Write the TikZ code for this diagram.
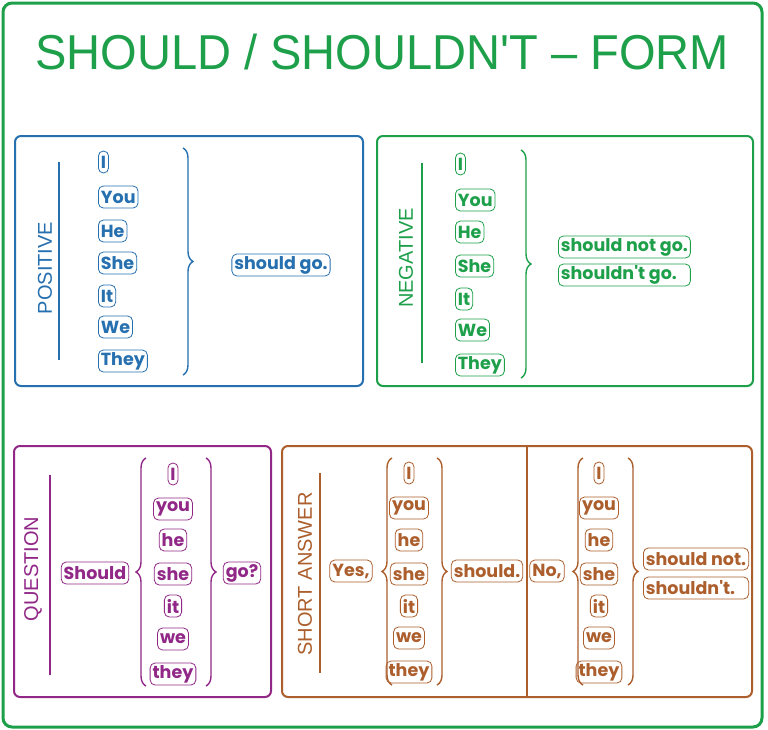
\documentclass[tikz,border=0pt]{standalone}
\usepackage{fontspec}
\setmainfont{Liberation Sans}
\newfontfamily\titlefont{Liberation Sans}
\newfontfamily\pillfont{Poppins}
\usetikzlibrary{decorations.pathreplacing}
\definecolor{cgreen}{RGB}{30,160,75}
\definecolor{cblue}{RGB}{38,112,176}
\definecolor{cpurple}{RGB}{145,40,135}
\definecolor{cbrown}{RGB}{172,95,45}
\newcommand{\ap}{\char"0027\relax}
\newcommand{\sameas}[2]{\makebox[0pt][l]{#1}\phantom{#2}}
\tikzset{
  pill/.style={draw=#1, text=#1, rounded corners=5pt, line width=0.8pt, inner xsep=2.5pt, inner ysep=0pt, minimum height=22pt, font=\pillfont\bfseries\fontsize{17.5}{17.5}\selectfont, fill=white},
  panel/.style={draw=#1, rounded corners=6pt, line width=2pt},
  sideline/.style={draw=#1, line width=2pt},
  sidelabel/.style={text=#1, rotate=90, font=\fontsize{20}{20}\selectfont},
  rbrace/.style={draw=#1, line width=1.4pt, decorate, decoration={brace, amplitude=10pt}},
  lbrace/.style={draw=#1, line width=1.4pt, decorate, decoration={brace, amplitude=10pt, mirror}},
}
\begin{document}
\begin{tikzpicture}[x=1pt,y=-1pt]
\useasboundingbox (0,0) rectangle (768,729);
\fill[white] (0,0) rectangle (768,729);
% outer frame
\draw[cgreen, line width=3pt, rounded corners=9pt] (3,3) rectangle (762,727);
\node (title) [text=cgreen, font=\titlefont\fontsize{49}{49}\selectfont] at (382,52) {\scalebox{0.96}[1]{SHOULD / SHOULDN'T – FORM}};

% ===== POSITIVE =====
\draw[panel=cblue] (15,136) rectangle (363,386);
\coordinate (p1) at (59,162); \coordinate (p2) at (59,360);
\draw[sideline=cblue] (p1) -- (p2);
\node (poslab) [sidelabel=cblue] at (45,268) {POSITIVE};
\foreach \t/\y/\n in {I/162/a, You/197/b, He/231/c, She/263/d, It/296/e, We/327/f, They/361/g}
  \node (pos\n) [pill=cblue, anchor=west] at (98,\y) {\t};
\coordinate (pbt) at (183,148); \coordinate (pbb) at (183,375);
\draw[rbrace=cblue] (pbt) -- (pbb);
\node (posv) [pill=cblue] at (281,265) {should go.};

% ===== NEGATIVE =====
\draw[panel=cgreen] (377,136) rectangle (753,386);
\coordinate (n1) at (422,163); \coordinate (n2) at (422,363);
\draw[sideline=cgreen] (n1) -- (n2);
\node (neglab) [sidelabel=cgreen] at (406,258) {NEGATIVE};
\foreach \t/\y/\n in {I/164/a, You/200/b, He/232/c, She/266/d, It/299/e, We/330/f, They/365/g}
  \node (neg\n) [pill=cgreen, anchor=west] at (455,\y) {\t};
\coordinate (nbt) at (521,150); \coordinate (nbb) at (521,378);
\draw[rbrace=cgreen] (nbt) -- (nbb);
\node (negv1) [pill=cgreen, anchor=west] at (558,247) {should not go.};
\node (negv2) [pill=cgreen, anchor=west] at (558,275) {\sameas{shouldn\ap t go.}{should not go.}};

% ===== QUESTION =====
\draw[panel=cpurple] (14,446) rectangle (271,697);
\coordinate (q1) at (50,475); \coordinate (q2) at (50,675);
\draw[sideline=cpurple] (q1) -- (q2);
\node (qlab) [sidelabel=cpurple] at (33,569) {QUESTION};
\node (qshould) [pill=cpurple] at (95,573) {Should};
\foreach \t/\y/\n in {I/474/a, you/509/b, he/540/c, she/574/d, it/606/e, we/639/f, they/674/g}
  \node (q\n) [pill=cpurple] at (173,\y) {\t};
\coordinate (qlt) at (146,458); \coordinate (qlb) at (146,686);
\draw[lbrace=cpurple] (qlt) -- (qlb);
\coordinate (qrt) at (206,458); \coordinate (qrb) at (206,686);
\draw[rbrace=cpurple] (qrt) -- (qrb);
\node (qgo) [pill=cpurple] at (242,573) {go?};

% ===== SHORT ANSWER =====
\draw[panel=cbrown] (282,446) rectangle (752,697);
\coordinate (d1) at (527,446); \coordinate (d2) at (527,697);
\draw[sideline=cbrown] (d1) -- (d2);
\coordinate (s1) at (320,473); \coordinate (s2) at (320,673);
\draw[sideline=cbrown] (s1) -- (s2);
\node (slab) [sidelabel=cbrown] at (305,574) {SHORT ANSWER};
\node (yes) [pill=cbrown] at (351,571) {Yes,};
\foreach \t/\y/\n in {I/473/a, you/508/b, he/540/c, she/574/d, it/606/e, we/638/f, they/672/g}
  \node (y\n) [pill=cbrown] at (409,\y) {\t};
\coordinate (ylt) at (392,458); \coordinate (ylb) at (392,685);
\draw[lbrace=cbrown] (ylt) -- (ylb);
\coordinate (yrt) at (437,458); \coordinate (yrb) at (437,685);
\draw[rbrace=cbrown] (yrt) -- (yrb);
\node (yshould) [pill=cbrown] at (487,571) {should.};
\node (no) [pill=cbrown] at (547,571) {No,};
\foreach \t/\y/\n in {I/473/a, you/508/b, he/540/c, she/574/d, it/606/e, we/638/f, they/672/g}
  \node (n\n) [pill=cbrown] at (599,\y) {\t};
\coordinate (nlt) at (583,458); \coordinate (nlb) at (583,685);
\draw[lbrace=cbrown] (nlt) -- (nlb);
\coordinate (nrt) at (628,458); \coordinate (nrb) at (628,685);
\draw[rbrace=cbrown] (nrt) -- (nrb);
\node (nshould1) [pill=cbrown, anchor=west] at (643,559) {should not.};
\node (nshould2) [pill=cbrown, anchor=west] at (643,588) {\sameas{shouldn\ap t.}{should not.}};
\end{tikzpicture}
\end{document}
